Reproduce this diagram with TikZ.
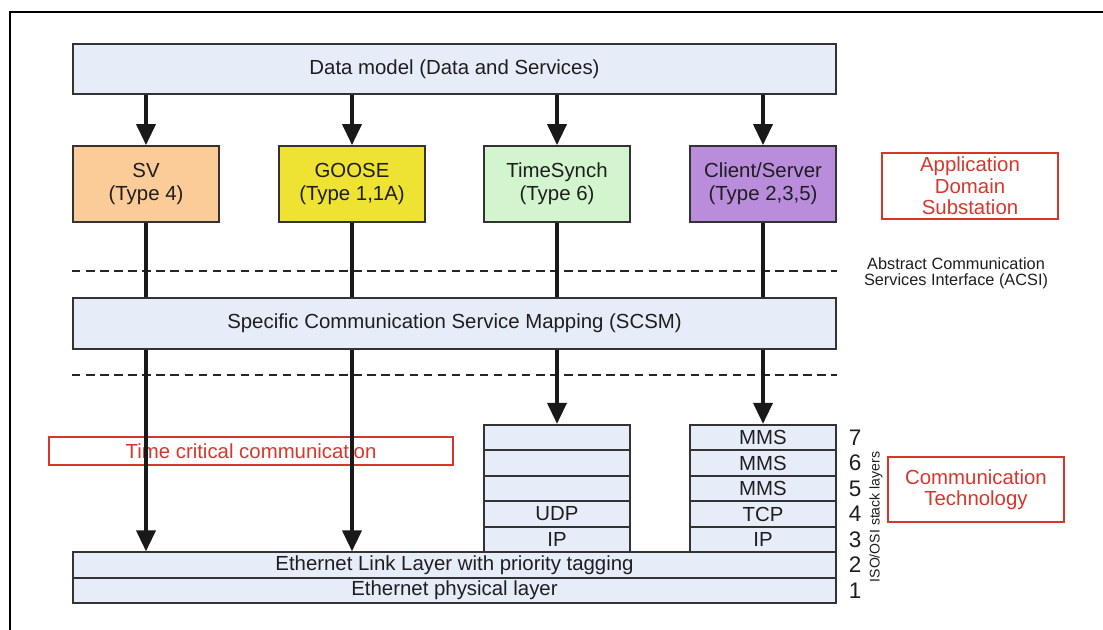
\documentclass[tikz,border=0pt]{standalone}
\usepackage{fontspec}
\setmainfont{Liberation Sans}
\usetikzlibrary{arrows.meta}

\definecolor{boxfill}{HTML}{E7EDF8}
\definecolor{boxline}{HTML}{333333}
\definecolor{svfill}{HTML}{FBCB98}
\definecolor{goosefill}{HTML}{EEE232}
\definecolor{syncfill}{HTML}{D2F5CE}
\definecolor{csfill}{HTML}{B98DDC}
\definecolor{labred}{HTML}{D6362C}
\definecolor{txt}{HTML}{1E1E1E}

\tikzset{
  base/.style={font=\fontsize{14.5}{16.5}\selectfont, text=txt, inner sep=0pt},
  layerbox/.style={base, draw=boxline, fill=boxfill, line width=1.2pt,
    minimum width=19.075cm},
  typebox/.style={base, draw=boxline, line width=1.2pt, align=center,
    minimum width=3.65cm, minimum height=1.9cm},
  stackrow/.style={base, draw=boxline, fill=boxfill, line width=1.2pt,
    minimum width=3.65cm, minimum height=0.6375cm},
  redbox/.style={base, font=\fontsize{14.5}{15.2}\selectfont, draw=labred,
    text=labred, line width=1.1pt, align=center},
  flow/.style={line width=2.8pt, draw=black!90},
  flowarrow/.style={flow, -{Triangle[length=15pt,width=13.5pt]}},
  sepline/.style={dash pattern=on 6pt off 4pt, line width=0.9pt, draw=black!85},
  layernum/.style={base, font=\fontsize{16}{18}\selectfont},
}

\begin{document}
\begin{tikzpicture}[x=0.025cm, y=-0.025cm]
  \useasboundingbox (0,0) rectangle (1103,630);

  % frame
  \draw[line width=2.1pt] (10,630) -- (10,12) -- (1103,12);

  % red domain labels (drawn first so the flows pass over them)
  \node[redbox, minimum width=10.1cm, minimum height=0.7cm] (tcc) at (251,451)
    {Time critical communication};
  \node[redbox, minimum width=4.4cm, minimum height=1.65cm] (app) at (970,186)
    {Application\\Domain\\Substation};
  \node[redbox, minimum width=4.4cm, minimum height=1.625cm] (comtech) at (976,489.5)
    {Communication\\Technology};

  % data model and services
  \node[layerbox, minimum height=1.25cm] (dm) at (454.5,69) {Data model (Data and Services)};
  \node[typebox, fill=svfill] (sv) at (146,184) {SV\\(Type 4)};
  \node[typebox, fill=goosefill] (goose) at (352,184) {GOOSE\\(Type 1,1A)};
  \node[typebox, fill=syncfill] (sync) at (557,184) {TimeSynch\\(Type 6)};
  \node[typebox, fill=csfill] (cs) at (763,184) {Client/Server\\(Type 2,3,5)};

  \node[base, font=\fontsize{11.6}{11.6}\selectfont, align=center] (acsi) at (956,273)
    {Abstract Communication\\Services Interface (ACSI)};

  % mapping layer
  \node[layerbox, minimum height=1.275cm] (scsm) at (454.5,323.5)
    {Specific Communication Service Mapping (SCSM)};

  \draw[sepline] (dm.west |- 0,271) -- (dm.east |- 0,271);
  \draw[sepline] (dm.west |- 0,375) -- (dm.east |- 0,375);

  % protocol stacks
  \node[stackrow] (l7) at (557,437.5) {};
  \node[stackrow] (l6) at (557,463) {};
  \node[stackrow] (l5) at (557,488.5) {};
  \node[stackrow] (l4) at (557,514) {UDP};
  \node[stackrow] (l3) at (557,539.5) {IP};
  \node[stackrow] (r7) at (763,437.5) {MMS};
  \node[stackrow] (r6) at (763,463) {MMS};
  \node[stackrow] (r5) at (763,488.5) {MMS};
  \node[stackrow] (r4) at (763,514) {TCP};
  \node[stackrow] (r3) at (763,539.5) {IP};
  \node[layerbox, minimum height=0.6375cm] (e2) at (454.5,565) {Ethernet Link Layer with priority tagging};
  \node[layerbox, minimum height=0.6375cm] (e1) at (454.5,590.5) {Ethernet physical layer};

  % ISO/OSI layer numbers
  \node[layernum] (n7) at (855,437.5) {7};
  \node[layernum] (n6) at (855,463) {6};
  \node[layernum] (n5) at (855,488.5) {5};
  \node[layernum] (n4) at (855,514) {4};
  \node[layernum] (n3) at (855,539.5) {3};
  \node[layernum] (n2) at (855,565) {2};
  \node[layernum] (n1) at (855,590.5) {1};
  \node[base, font=\fontsize{10}{12}\selectfont, rotate=90] (osi) at (876,517) {ISO/OSI stack layers};

  % flows from the data model
  \foreach \b in {sv,goose,sync,cs}
    \draw[flowarrow] (dm.south -| \b.north) -- (\b.north);

  % flows down to the mapping layer
  \foreach \b in {sv,goose,sync,cs}
    \draw[flow] (\b.south) -- (\b.south |- scsm.north);

  % time critical flows straight to the link layer
  \draw[flowarrow] (scsm.south -| sv.south) -- (sv.south |- e2.north);
  \draw[flowarrow] (scsm.south -| goose.south) -- (goose.south |- e2.north);

  % mapped flows into the stacks
  \draw[flowarrow] (scsm.south -| l7.north) -- (l7.north);
  \draw[flowarrow] (scsm.south -| r7.north) -- (r7.north);
\end{tikzpicture}
\end{document}
